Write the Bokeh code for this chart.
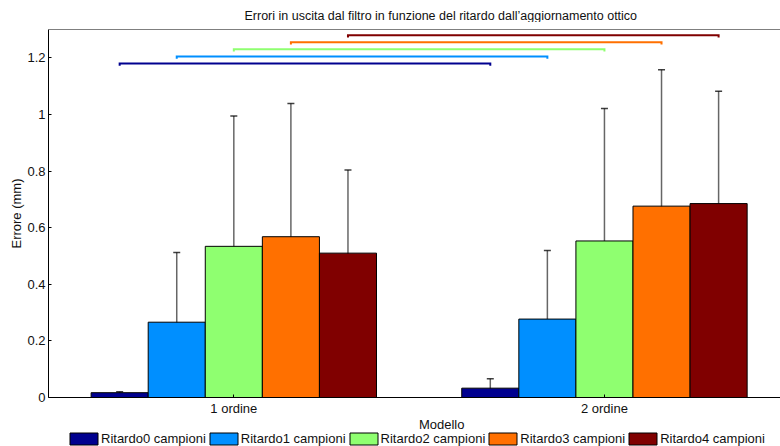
from bokeh.plotting import figure
from bokeh.layouts import column
from bokeh.models import (ColumnDataSource, Whisker, TeeHead, Legend, LegendItem,
                          FixedTicker, Span, Range1d, Label)
from bokeh.embed import file_html
from bokeh.resources import INLINE

# ---------------- data ----------------
title_text = "Errori in uscita dal filtro in funzione del ritardo dall\u2019aggiornamento ottico"
x_title = "Modello"
y_title = "Errore (mm)"

categories = ["1 ordine", "2 ordine"]
series_names = ["Ritardo0 campioni", "Ritardo1 campioni", "Ritardo2 campioni",
                "Ritardo3 campioni", "Ritardo4 campioni"]

ritardo0 = [0.017, 0.033]
ritardo1 = [0.266, 0.277]
ritardo2 = [0.534, 0.553]
ritardo3 = [0.568, 0.676]
ritardo4 = [0.510, 0.685]

ritardo0_low = [0.014, 0.000]
ritardo1_low = [0.044, 0.026]
ritardo2_low = [0.065, 0.047]
ritardo3_low = [0.087, 0.071]
ritardo4_low = [0.115, 0.086]

ritardo0_high = [0.020, 0.066]
ritardo1_high = [0.512, 0.519]
ritardo2_high = [0.994, 1.021]
ritardo3_high = [1.039, 1.158]
ritardo4_high = [0.804, 1.082]

bracket_levels = [1.180, 1.205, 1.230, 1.255, 1.280]

y_ticks = [0, 0.2, 0.4, 0.6, 0.8, 1.0, 1.2]
y_tick_labels = ["0", "0.2", "0.4", "0.6", "0.8", "1", "1.2"]

means = [ritardo0, ritardo1, ritardo2, ritardo3, ritardo4]
lows = [ritardo0_low, ritardo1_low, ritardo2_low, ritardo3_low, ritardo4_low]
highs = [ritardo0_high, ritardo1_high, ritardo2_high, ritardo3_high, ritardo4_high]

colors = ["#00008F", "#008FFF", "#8FFF70", "#FF7000", "#800000"]
FONT = "Liberation Sans"
TXT = "#111111"


def strip(height):
    f = figure(width=780, height=height, x_range=Range1d(0, 780), y_range=Range1d(0, height),
               output_backend="svg", toolbar_location=None,
               x_axis_location=None, y_axis_location=None,
               min_border=0, min_border_left=0, min_border_right=0,
               min_border_top=0, min_border_bottom=0)
    f.grid.visible = False
    f.outline_line_color = None
    f.background_fill_color = "white"
    f.border_fill_color = "white"
    return f


# ---------------- title strip ----------------
top_h = 22
pt = strip(top_h)
pt.add_layout(Label(x=418, y=top_h - 15, text=title_text, text_align="center",
                    text_baseline="middle", text_font=FONT, text_font_size="12.5px",
                    text_color=TXT))

# ---------------- main figure ----------------
p = figure(width=780, height=396,
           x_range=Range1d(0.5, 2.475), y_range=Range1d(0, 1.3),
           output_backend="svg", toolbar_location=None,
           min_border_left=48, min_border_right=0,
           min_border_top=7, min_border_bottom=21)
p.grid.visible = False
p.outline_line_color = None
p.background_fill_color = "white"
p.border_fill_color = "white"

cat_pos = [i + 1 for i in range(len(categories))]
bar_w = 0.154

for i, name in enumerate(series_names):
    off = (i - 2) * bar_w
    xs = [c + off for c in cat_pos]
    src = ColumnDataSource(dict(x=xs, top=means[i], lower=lows[i], upper=highs[i]))
    p.vbar(x="x", top="top", width=bar_w, source=src,
           fill_color=colors[i], line_color="black", line_width=1)
    w = Whisker(source=src, base="x", upper="upper", lower="lower",
                line_color="black", line_alpha=0.6, line_width=1.5,
                upper_head=TeeHead(size=7, line_color="black", line_alpha=0.75, line_width=1.5),
                lower_head=TeeHead(size=7, line_color="black", line_alpha=0.75, line_width=1.5))
    p.add_layout(w)

# significance brackets (bar i of group 1 to bar i of group 2)
for i, lvl in enumerate(bracket_levels):
    off = (i - 2) * bar_w
    x1 = cat_pos[0] + off
    x2 = cat_pos[1] + off
    p.line(x=[x1, x1, x2, x2], y=[lvl - 0.008, lvl, lvl, lvl - 0.008],
           line_color=colors[i], line_width=2, line_join="miter")

# top border
p.add_layout(Span(location=1.3, dimension="width", line_color="black", line_width=1))

# axes
ya = p.yaxis[0]
ya.ticker = FixedTicker(ticks=y_ticks)
ya.major_label_overrides = {t: l for t, l in zip(y_ticks, y_tick_labels)}
ya.major_tick_in = 3
ya.major_tick_out = 0
ya.minor_tick_line_color = None
ya.axis_line_color = "black"
ya.major_tick_line_color = "black"
ya.major_label_text_font = FONT
ya.major_label_text_font_size = "13px"
ya.major_label_text_color = TXT
ya.major_label_standoff = 3
ya.axis_label = y_title
ya.axis_label_text_font = FONT
ya.axis_label_text_font_size = "13px"
ya.axis_label_text_font_style = "normal"
ya.axis_label_text_color = TXT
ya.axis_label_standoff = 0

xa = p.xaxis[0]
xa.ticker = FixedTicker(ticks=cat_pos)
xa.major_label_overrides = {c: l for c, l in zip(cat_pos, categories)}
xa.major_tick_in = 3
xa.major_tick_out = 0
xa.minor_tick_line_color = None
xa.axis_line_color = "black"
xa.major_tick_line_color = "black"
xa.major_label_text_font = FONT
xa.major_label_text_font_size = "13px"
xa.major_label_text_color = TXT
xa.major_label_standoff = 3

# ---------------- strip below: x-axis title + legend ----------------
bot_h = 28
pl = strip(bot_h)
pl.add_layout(Label(x=419, y=bot_h - 6, text=x_title, text_align="center",
                    text_baseline="middle", text_font=FONT, text_font_size="13px",
                    text_color=TXT))

leg_renderers = []
for i, name in enumerate(series_names):
    # one point placed outside the visible range: only its legend swatch shows
    rr = pl.vbar(x=[5000], top=[5000], bottom=[4000], width=10,
                 fill_color=colors[i], line_color="black", line_width=1)
    leg_renderers.append(rr)

legend = Legend(items=[LegendItem(label=n, renderers=[r]) for n, r in zip(series_names, leg_renderers)],
                orientation="horizontal", location=(18, 0),
                border_line_color=None, background_fill_alpha=0,
                glyph_width=35, glyph_height=15, label_height=15,
                label_text_font=FONT, label_text_font_size="13px",
                label_text_color=TXT,
                label_standoff=0, spacing=0, padding=0, margin=0)
pl.add_layout(legend, "center")

layout = column(pt, p, pl, spacing=0)
open("out.html", "w").write(file_html(layout, INLINE))
